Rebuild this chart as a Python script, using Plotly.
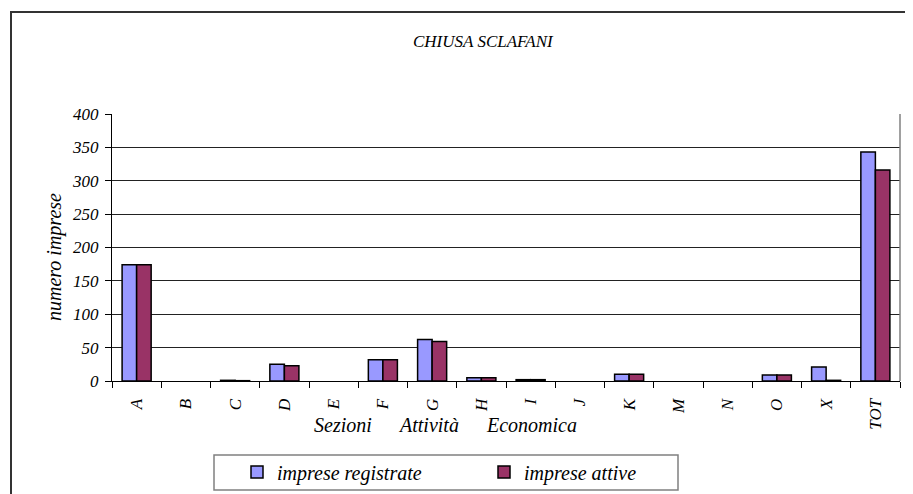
import plotly.graph_objects as go

categories = ["A", "B", "C", "D", "E", "F", "G", "H", "I", "J", "K", "M", "N", "O", "X", "TOT"]
registrate = [174, 0, 1, 25, 0, 32, 62, 5, 2, 0, 10, 0, 0, 9, 21, 343]
attive = [174, 0, 0.5, 23, 0, 32, 59, 5, 2, 0, 10, 0, 0, 9, 1, 316]
y_ticks = [0, 50, 100, 150, 200, 250, 300, 350, 400]

# the page body adds an 8px margin; figure coordinates below are compensated
OFF = 8
W, H = 913 - OFF, 494 - OFF
L, R, T, B = 112 - OFF, 900 - OFF, 114 - OFF, 381 - OFF

def px(x):
    return (x - OFF - L) / (R - L)

def py(y):
    return (B - (y - OFF)) / (B - T)

serif = "Liberation Serif, Times New Roman, serif"

def outline_widths(vals):
    return [0 if v == 0 else 1.5 for v in vals]

fig = go.Figure()
fig.add_trace(go.Bar(x=categories, y=registrate, name="imprese registrate",
                     marker=dict(color="#9999FF",
                                 line=dict(color="#000000", width=outline_widths(registrate)))))
fig.add_trace(go.Bar(x=categories, y=attive, name="imprese attive",
                     marker=dict(color="#993366",
                                 line=dict(color="#000000", width=outline_widths(attive)))))

fig.update_layout(
    width=W, height=H,
    margin=dict(l=L, r=W - R, t=T, b=H - B, pad=0, autoexpand=False),
    paper_bgcolor="white", plot_bgcolor="white",
    barmode="group", bargap=0.41, bargroupgap=0,
    font=dict(family=serif, size=16, color="#000000", style="italic"),
    showlegend=True,
    legend=dict(orientation="h", x=px(237), y=py(472), xanchor="left", yanchor="middle",
                borderwidth=0, bgcolor="rgba(0,0,0,0)",
                font=dict(family=serif, size=20, style="italic"),
                entrywidth=202, itemwidth=30, traceorder="normal"),
    xaxis=dict(showgrid=False, showline=True, linecolor="#000000", linewidth=1,
               ticks="outside", tickson="boundaries", ticklen=6, tickcolor="#000000",
               tickangle=-90, ticklabelstandoff=10,
               tickfont=dict(family=serif, size=17, style="italic"),
               automargin=False),
    yaxis=dict(range=[0, 400], tickvals=y_ticks, showgrid=True, gridcolor="#222222",
               gridwidth=1, showline=True, linecolor="#000000", linewidth=1,
               ticks="outside", ticklen=6, tickcolor="#000000", zeroline=False,
               ticklabelstandoff=3,
               tickfont=dict(family=serif, size=17, style="italic"),
               automargin=False),
)

# right border of plot area
fig.add_shape(type="line", xref="paper", yref="paper", x0=1, x1=1, y0=0, y1=1,
              line=dict(color="#808080", width=1.5))
# outer chart frame
fig.add_shape(type="rect", xref="paper", yref="paper",
              x0=px(11), x1=px(1000), y0=py(12), y1=py(600),
              line=dict(color="#333333", width=2), layer="below")
# legend frame
fig.add_shape(type="rect", xref="paper", yref="paper",
              x0=px(214), x1=px(678), y0=py(455), y1=py(490),
              line=dict(color="#808080", width=1.5), layer="below")

def label(text, x, y, size, angle=0):
    fig.add_annotation(text=text, xref="paper", yref="paper", x=px(x), y=py(y),
                       xanchor="center", yanchor="middle", showarrow=False,
                       textangle=angle, font=dict(family=serif, size=size, style="italic"))

label("CHIUSA SCLAFANI", 483, 41, 17)
label("numero imprese", 54, 257, 20, -90)
for word, xc in [("Sezioni", 343), ("Attività", 428), ("Economica", 531)]:
    label(word, xc, 425, 20)

fig.write_html("out.html")
